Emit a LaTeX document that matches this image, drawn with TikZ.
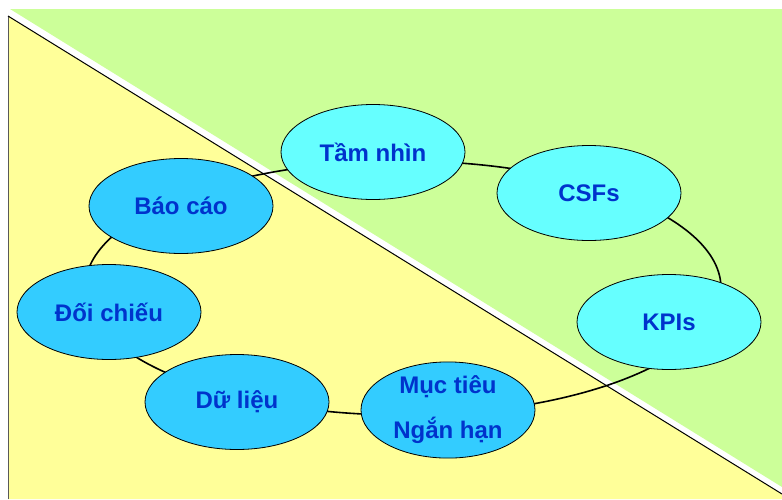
\documentclass[tikz,border=0pt]{standalone}
\usepackage{fontspec}
\setmainfont{Liberation Sans}
\usepackage{xcolor}
\usepackage{tikz}
\usetikzlibrary{shapes.geometric}

\definecolor{bggreen}{HTML}{CCFF99}
\definecolor{bgyellow}{HTML}{FFFF99}
\definecolor{topcyan}{HTML}{66FFFF}
\definecolor{lowcyan}{HTML}{33CCFF}
\definecolor{textblue}{HTML}{0033CC}

\begin{document}
\begin{tikzpicture}[
    x=1pt,y=-1pt,
    stage/.style={ellipse,draw=black,line width=0.8pt,minimum width=184pt,minimum height=95pt,
                  inner sep=0pt,align=center,text=textblue,font=\fontsize{24}{45}\selectfont\bfseries},
    upper/.style={stage,fill=topcyan},
    lower/.style={stage,fill=lowcyan},
    ring/.style={draw=black,line width=1.6pt}
]
    \useasboundingbox (0,0) rectangle (782,499);

    % Background
    \fill[bggreen] (10,9) -- (782,9) -- (782,487) -- cycle;
    \fill[bgyellow] (8,16) -- (782,494) -- (782,499) -- (8,499) -- cycle;
    \draw[gray!70!black,line width=1pt] (8,499) -- (8,16);
    \draw[black,line width=1pt] (8,16) -- (782,494);

    % Cycle
    \draw[ring] (403,288) ellipse [x radius=318, y radius=127];

    % Stages
    \node[upper] (tamnhin) at (373,152) {Tầm nhìn};
    \node[upper] (csf) at (589,193) {CSFs};
    \node[upper] (kpi) at (669,322) {KPIs};
    \node[lower,minimum width=174pt] (muctieu) at (448,410) {Mục tiêu\\Ngắn hạn};
    \node[lower] (dulieu) at (237,402) {Dữ liệu};
    \node[lower] (doichieu) at (109,312) {Đối chiếu};
    \node[lower] (baocao) at (181,206) {Báo cáo};
\end{tikzpicture}
\end{document}
